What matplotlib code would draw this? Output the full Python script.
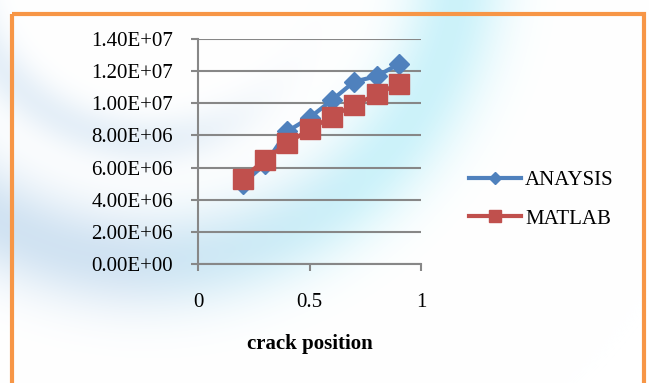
import numpy as np
import matplotlib.pyplot as plt
from matplotlib.patches import Rectangle

crack_pos = [0.2, 0.3, 0.4, 0.5, 0.6, 0.7, 0.8, 0.9]
ansys_vals = [5.0e6, 6.2e6, 8.25e6, 9.1e6, 1.02e7, 1.135e7, 1.168e7, 1.245e7]
matlab_vals = [5.3e6, 6.5e6, 7.5e6, 8.38e6, 9.17e6, 9.9e6, 1.055e7, 1.123e7]
y_ticks = [0, 2e6, 4e6, 6e6, 8e6, 1e7, 1.2e7, 1.4e7]
x_ticks = [0, 0.5, 1]

blue = '#4f81bd'
red = '#c0504d'
grid_col = '#878787'

plt.rcParams['font.family'] = ['Liberation Serif', 'DejaVu Serif']

fig = plt.figure(figsize=(6.49, 3.83), dpi=100)

# soft curved shading behind the chart
bg = fig.add_axes([0, 0, 1, 1], zorder=0)
bg.set_xlim(0, 649)
bg.set_ylim(383, 0)
bg.axis('off')
xx, yy = np.meshgrid(np.arange(649), np.arange(383))
r = np.hypot(xx - 150, yy + 50)
ring = np.exp(-((r - 310) / 50) ** 2)
fade = 1 / (1 + np.exp((xx - 240) / 30))
ring2 = 0.55 * np.exp(-((r - 190) / 25) ** 2) * fade
side = np.clip((xx - 120) / 250, 0, 1)[..., None]
cyan = np.array([0.80, 0.95, 0.98])
pale_blue = np.array([0.82, 0.89, 0.95])
tint = side * cyan + (1 - side) * pale_blue
img = np.ones((383, 649, 3))
img = img * (1 - ring[..., None]) + tint * ring[..., None]
img = img * (1 - ring2[..., None]) + pale_blue * ring2[..., None]
bg.imshow(img, extent=(0, 649, 383, 0), aspect='auto', interpolation='bilinear')
bg.add_patch(Rectangle((12, 14), 632, 380, fill=False, edgecolor='#f79646', linewidth=3))

ax = fig.add_axes([0.305, 0.311, 0.344, 0.587], zorder=1)
ax.patch.set_alpha(0)

ax.plot(crack_pos, ansys_vals, color=blue, linewidth=3, marker='D',
        markersize=10, label='ANAYSIS', zorder=3)
ax.plot(crack_pos, matlab_vals, color=red, linewidth=3, marker='s',
        markersize=14, label='MATLAB', zorder=4)

ax.set_xlim(0, 1)
ax.set_ylim(0, 1.4e7)
ax.set_xticks(x_ticks)
ax.set_xticklabels(['0', '0.5', '1'])
ax.set_yticks(y_ticks)
ax.set_yticklabels([f'{v:.2E}' for v in y_ticks])
ax.yaxis.grid(True, color=grid_col, linewidth=1.5)
ax.set_axisbelow(True)

for s in ['top', 'right']:
    ax.spines[s].set_visible(False)
ax.spines['left'].set_color(grid_col)
ax.spines['left'].set_linewidth(1.5)
ax.spines['bottom'].set_color(grid_col)
ax.spines['bottom'].set_linewidth(1.5)
ax.tick_params(axis='both', colors=grid_col, width=1.5, length=5, labelsize=15,
               labelcolor='black')
ax.tick_params(axis='y', pad=13)
ax.tick_params(axis='x', pad=16)

ax.set_xlabel('crack position', fontsize=15, fontweight='bold', labelpad=16)

leg = ax.legend(loc='center left', bbox_to_anchor=(1.13, 0.285), frameon=False,
                fontsize=15, handlelength=2.5, labelspacing=0.9, handletextpad=0.2,
                markerscale=0.6)

fig.savefig('out.png', dpi=100)
